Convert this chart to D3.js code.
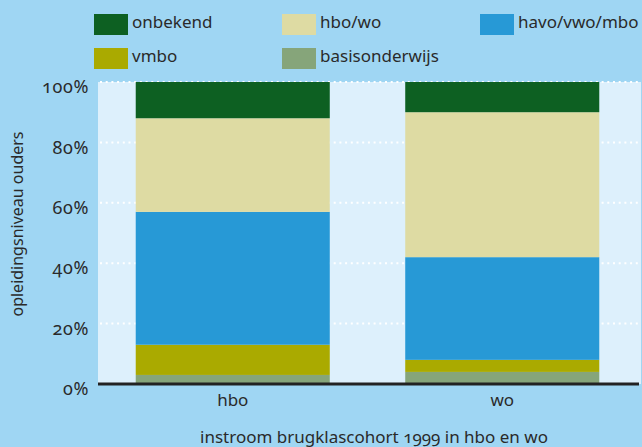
<!DOCTYPE html>
<html>
<head>
<meta charset="utf-8">
<script src="https://cdn.jsdelivr.net/npm/d3@7"></script>
<style>
  body { margin: 0; background: #9fd6f3; }
</style>
</head>
<body>
<div id="chart"></div>
<script>
// data: share per parental education level (percent)
const categories = ['hbo', 'wo'];
const levels = ['basisonderwijs', 'vmbo', 'havo/vwo/mbo', 'hbo/wo', 'onbekend'];
const basisonderwijs = [3, 4];
const vmbo = [10, 4];
const havoVwoMbo = [44, 34];
const hboWo = [31, 48];
const onbekend = [12, 10];
const yTicks = [0, 20, 40, 60, 80, 100];
const legendOrder = ['onbekend', 'hbo/wo', 'havo/vwo/mbo', 'vmbo', 'basisonderwijs'];

const colors = {
	'onbekend'		: '#0d6022',
	'hbo/wo'		: '#dedba3',
	'havo/vwo/mbo'	: '#2799d6',
	'vmbo'			: '#aaaa00',
	'basisonderwijs': '#86a57a'
};

const width = 642, height = 447;
const plot = { left: 98, right: 641, top: 82, bottom: 384 };

// font style string, oldstyle figures like the original
const txt = size => "font-family:'Noto Sans';font-size:" + size + "px;font-variant-numeric:oldstyle-nums;font-feature-settings:'onum' 1";

const svg = d3.select('#chart').append('svg')
	.attr('width', width)
	.attr('height', height);

const rows = categories.map((c, i) => ({
	cat: c,
	'basisonderwijs': basisonderwijs[i],
	'vmbo': vmbo[i],
	'havo/vwo/mbo': havoVwoMbo[i],
	'hbo/wo': hboWo[i],
	'onbekend': onbekend[i]
}));
const stacked = d3.stack().keys(levels)(rows);

const x = d3.scaleBand()
	.domain(categories)
	.range([plot.left, 637])
	.paddingInner(0.28)
	.paddingOuter(0.14);

const y = d3.scaleLinear()
	.domain([0, 100])
	.range([plot.bottom, plot.top]);

// plot background
svg.append('rect')
	.attr('x', plot.left)
	.attr('y', plot.top)
	.attr('width', plot.right - plot.left)
	.attr('height', plot.bottom - plot.top)
	.attr('fill', '#ddf0fc');

// dotted gridlines
svg.append('g')
	.selectAll('line')
	.data(yTicks.filter(d => d > 0))
	.enter().append('line')
		.attr('x1', plot.left + 2)
		.attr('x2', plot.right - 2)
		.attr('y1', d => y(d))
		.attr('y2', d => y(d))
		.attr('stroke', '#ffffff')
		.attr('stroke-width', 2)
		.attr('stroke-dasharray', '2,3.7');

// bars
svg.append('g')
	.selectAll('g')
	.data(stacked)
	.enter().append('g')
		.attr('fill', d => colors[d.key])
	.selectAll('rect')
	.data(d => d)
	.enter().append('rect')
		.attr('x', d => x(d.data.cat))
		.attr('y', d => y(d[1]))
		.attr('width', x.bandwidth())
		.attr('height', d => y(d[0]) - y(d[1]) + (d[0] === 0 ? 1 : 0));

// baseline
svg.append('line')
	.attr('x1', plot.left)
	.attr('x2', 639)
	.attr('y1', plot.bottom)
	.attr('y2', plot.bottom)
	.attr('stroke', '#222')
	.attr('stroke-width', 3);

// y axis labels
const yAxis = d3.axisLeft(y)
	.tickValues(yTicks)
	.tickSize(0)
	.tickPadding(0)
	.tickFormat(d => d + '%');
const yg = svg.append('g')
	.attr('transform', 'translate(89,5)')
	.call(yAxis);
yg.select('.domain').remove();
yg.attr('font-family', null).attr('font-size', null);
yg.selectAll('text')
	.attr('style', txt(18) + ';letter-spacing:0.6px');

// x axis labels
const xAxis = d3.axisBottom(x).tickSize(0).tickPadding(0);
const xg = svg.append('g')
	.attr('transform', 'translate(0,394)')
	.call(xAxis);
xg.select('.domain').remove();
xg.attr('font-family', null).attr('font-size', null);
xg.selectAll('text').attr('style', txt(17));

// axis titles
svg.append('text')
	.attr('transform', 'translate(23,224) rotate(-90)')
	.attr('text-anchor', 'middle')
	.attr('style', txt(16))
	.text('opleidingsniveau ouders');

svg.append('text')
	.attr('x', 374)
	.attr('y', 443)
	.attr('text-anchor', 'middle')
	.attr('style', txt(17))
	.text('instroom brugklascohort 1999 in hbo en wo');

// legend
const legend = svg.append('g')
	.selectAll('g')
	.data(legendOrder)
	.enter().append('g')
		.attr('transform', (d, i) => 'translate(' + [94, 282, 480][i % 3] + ',' + (14 + Math.floor(i / 3) * 34) + ')');
legend.append('rect')
	.attr('width', 34)
	.attr('height', 21)
	.attr('fill', d => colors[d]);
legend.append('text')
	.attr('x', 38)
	.attr('y', 14)
	.attr('style', txt(17))
	.text(d => d);

svg.selectAll('text').attr('fill', '#2a2a2a');
</script>
</body>
</html>
